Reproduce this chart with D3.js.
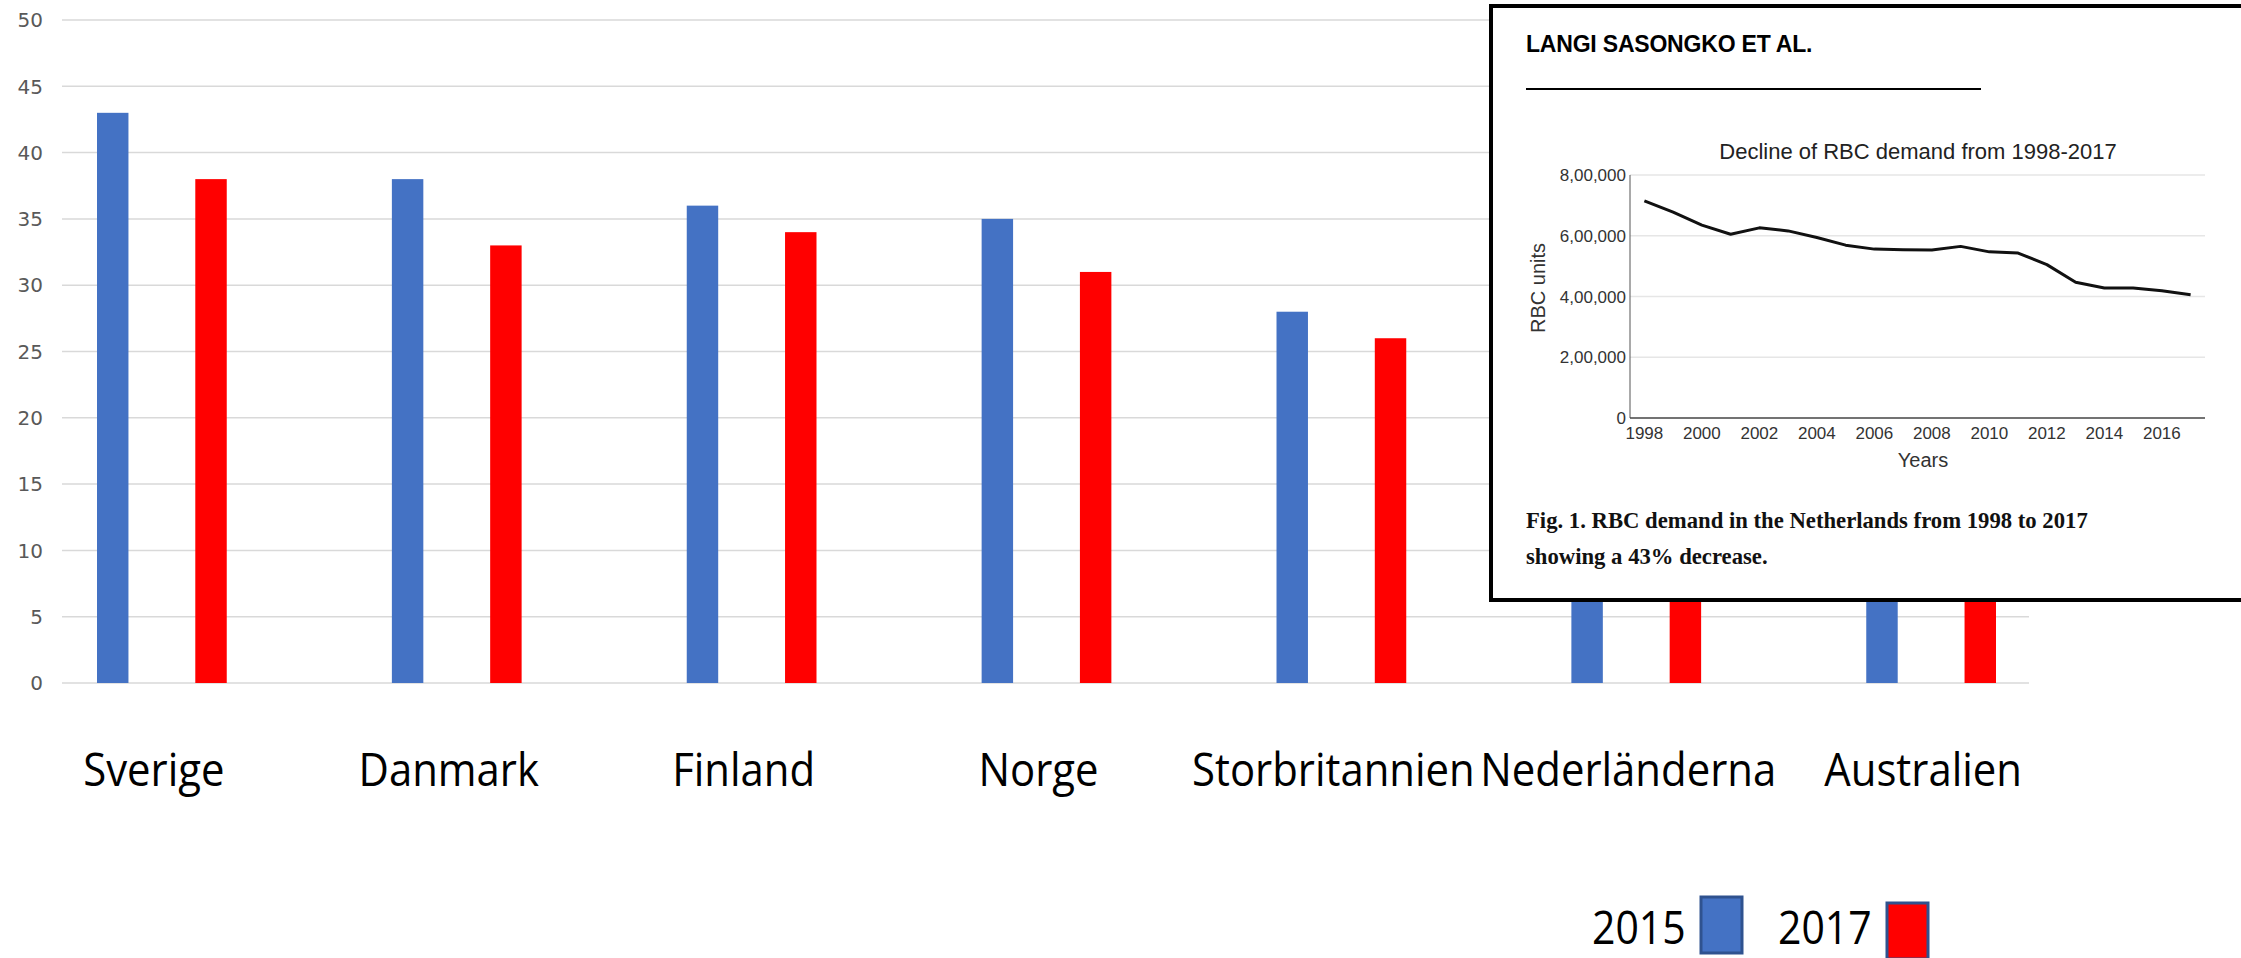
<!DOCTYPE html>
<html>
<head>
<meta charset="utf-8">
<script src="https://cdn.jsdelivr.net/npm/d3@7"></script>
<style>
  body { margin: 0; background: #fff; }
</style>
</head>
<body>
<script>
// main chart data
var categories = ["Sverige", "Danmark", "Finland", "Norge", "Storbritannien", "Nederländerna", "Australien"];
var seriesNames = ["2015", "2017"];
var values2015 = [43, 38, 36, 35, 28, 25, 30];
var values2017 = [38, 33, 34, 31, 26, 22, 28];
var yTicks = [0, 5, 10, 15, 20, 25, 30, 35, 40, 45, 50];

// inset chart data
var insetYears = ["1998","1999","2000","2001","2002","2003","2004","2005","2006","2007",
                  "2008","2009","2010","2011","2012","2013","2014","2015","2016","2017"];
var insetDemand = [715000, 678000, 635000, 605000, 626000, 616000, 594000, 569000, 556000, 554000,
                   553000, 565000, 547000, 543000, 505000, 447000, 428000, 428000, 419000, 406000];
var insetYTicks = [0, 200000, 400000, 600000, 800000];
var insetXTicks = ["1998","2000","2002","2004","2006","2008","2010","2012","2014","2016"];

var W = 2241, H = 958;
var colors = {"2015": "#4472C4", "2017": "#FF0000"};
var narrowFont = "Open Sans, Noto Sans, sans-serif";

var svg = d3.select("body").append('svg')
        .attr('width', W)
        .attr('height', H)
        .attr("viewBox", `0 0 ${W} ${H}`);

var y = d3.scaleLinear().domain([0, 50]).range([683, 20]);

var x = d3.scaleBand()
        .domain(categories)
        .range([97, 1996])
        .paddingInner(0.56)
        .paddingOuter(0);

var xSub = d3.scaleBand()
        .domain(seriesNames)
        .range([0, x.bandwidth()])
        .paddingInner(0.68);

// grid
svg.append("g").selectAll("line")
    .data(yTicks)
    .enter().append("line")
    .attr("x1", 62).attr("x2", 2029)
    .attr("y1", d => y(d)).attr("y2", d => y(d))
    .attr("stroke", "#d9d9d9")
    .attr("stroke-width", 1.5);

svg.append("g").selectAll("text")
    .data(yTicks)
    .enter().append("text")
    .attr("x", 43)
    .attr("y", d => y(d))
    .attr("dy", "0.36em")
    .attr("text-anchor", "end")
    .attr("font-family", "DejaVu Sans, sans-serif")
    .attr("font-size", 20)
    .attr("fill", "#595959")
    .text(d => d);

// bars
var rows = categories.map((c, i) => ({cat: c, vals: [{s: "2015", v: values2015[i]}, {s: "2017", v: values2017[i]}]}));

var groups = svg.append("g").selectAll("g")
    .data(rows)
    .enter().append("g")
    .attr("transform", d => `translate(${x(d.cat)},0)`);

groups.selectAll("rect")
    .data(d => d.vals)
    .enter().append("rect")
    .attr("x", d => xSub(d.s))
    .attr("width", xSub.bandwidth())
    .attr("y", d => y(d.v))
    .attr("height", d => y(0) - y(d.v))
    .attr("fill", d => colors[d.s]);

// category labels (condensed by a horizontal squeeze)
svg.append("g").selectAll("text")
    .data(categories)
    .enter().append("text")
    .attr("transform", d => `translate(${x(d) + x.bandwidth() / 2 - 8},786) scale(0.91,1)`)
    .attr("text-anchor", "middle")
    .attr("font-family", narrowFont)
    .attr("font-size", 46)
    .attr("fill", "#000")
    .text(d => d);

// legend
var legendX = [1592, 1778];
var leg = svg.append("g").selectAll("g")
    .data(seriesNames)
    .enter().append("g")
    .attr("transform", (d, i) => `translate(${legendX[i]},0)`);

leg.append("text")
    .attr("transform", "translate(0,944) scale(0.89,1)")
    .attr("font-family", narrowFont)
    .attr("font-size", 46)
    .attr("fill", "#000")
    .text(d => d);

leg.append("rect")
    .attr("x", 109)
    .attr("y", (d, i) => i === 0 ? 897 : 903)
    .attr("width", 41)
    .attr("height", 56)
    .attr("fill", d => colors[d])
    .attr("stroke", "#2F528F")
    .attr("stroke-width", 3);

// ---- inset figure ----
var inset = svg.append("g");

inset.append("rect")
    .attr("x", 1491).attr("y", 6)
    .attr("width", 800).attr("height", 594)
    .attr("fill", "#fff")
    .attr("stroke", "#000")
    .attr("stroke-width", 4);

inset.append("text")
    .attr("x", 1526).attr("y", 52)
    .attr("font-family", "Liberation Sans, Arial, sans-serif")
    .attr("font-weight", "bold")
    .attr("font-size", 23)
    .attr("letter-spacing", -0.2)
    .text("LANGI SASONGKO ET AL.");

inset.append("line")
    .attr("x1", 1526).attr("x2", 1981)
    .attr("y1", 89).attr("y2", 89)
    .attr("stroke", "#000").attr("stroke-width", 2);

inset.append("text")
    .attr("x", 1918).attr("y", 159)
    .attr("text-anchor", "middle")
    .attr("font-family", "Liberation Sans, Arial, sans-serif")
    .attr("font-size", 22)
    .attr("fill", "#222")
    .text("Decline of RBC demand from 1998-2017");

var ix = d3.scalePoint().domain(insetYears).range([1630, 2205]).padding(0.5);
var iy = d3.scaleLinear().domain([0, 800000]).range([418, 175]);
var fmt = d3.formatLocale({decimal: ".", thousands: ",", grouping: [3, 2], currency: ["", ""]}).format(",");

inset.append("g").selectAll("line")
    .data(insetYTicks.filter(d => d > 0))
    .enter().append("line")
    .attr("x1", 1630).attr("x2", 2205)
    .attr("y1", d => iy(d)).attr("y2", d => iy(d))
    .attr("stroke", "#e6e6e6").attr("stroke-width", 1.5);

inset.append("line")
    .attr("x1", 1630).attr("x2", 1630)
    .attr("y1", 175).attr("y2", 418)
    .attr("stroke", "#555").attr("stroke-width", 1);

inset.append("line")
    .attr("x1", 1630).attr("x2", 2205)
    .attr("y1", 418).attr("y2", 418)
    .attr("stroke", "#444").attr("stroke-width", 1.5);

inset.append("g").selectAll("text")
    .data(insetYTicks)
    .enter().append("text")
    .attr("x", 1626)
    .attr("y", d => iy(d))
    .attr("dy", "0.36em")
    .attr("text-anchor", "end")
    .attr("font-family", "Liberation Sans, Arial, sans-serif")
    .attr("font-size", 17)
    .attr("fill", "#333")
    .text(d => fmt(d));

inset.append("g").selectAll("text")
    .data(insetXTicks)
    .enter().append("text")
    .attr("x", d => ix(d))
    .attr("y", 439)
    .attr("text-anchor", "middle")
    .attr("font-family", "Liberation Sans, Arial, sans-serif")
    .attr("font-size", 17)
    .attr("fill", "#333")
    .text(d => d);

inset.append("text")
    .attr("x", 1923).attr("y", 467)
    .attr("text-anchor", "middle")
    .attr("font-family", "Liberation Sans, Arial, sans-serif")
    .attr("font-size", 20)
    .attr("fill", "#333")
    .text("Years");

inset.append("text")
    .attr("transform", "translate(1545,288) rotate(-90)")
    .attr("text-anchor", "middle")
    .attr("font-family", "Liberation Sans, Arial, sans-serif")
    .attr("font-size", 20)
    .attr("fill", "#333")
    .text("RBC units");

var line = d3.line()
    .x((d, i) => ix(insetYears[i]))
    .y(d => iy(d));

inset.append("path")
    .datum(insetDemand)
    .attr("d", line)
    .attr("fill", "none")
    .attr("stroke", "#111")
    .attr("stroke-width", 3)
    .attr("stroke-linejoin", "round");

var caption = ["Fig. 1. RBC demand in the Netherlands from 1998 to 2017", "showing a 43% decrease."];
inset.append("g").selectAll("text")
    .data(caption)
    .enter().append("text")
    .attr("x", 1526)
    .attr("y", (d, i) => 528 + i * 36)
    .attr("font-family", "Liberation Serif, Times New Roman, serif")
    .attr("font-weight", "bold")
    .attr("font-size", 22.7)
    .attr("fill", "#111")
    .text(d => d);
</script>
</body>
</html>
